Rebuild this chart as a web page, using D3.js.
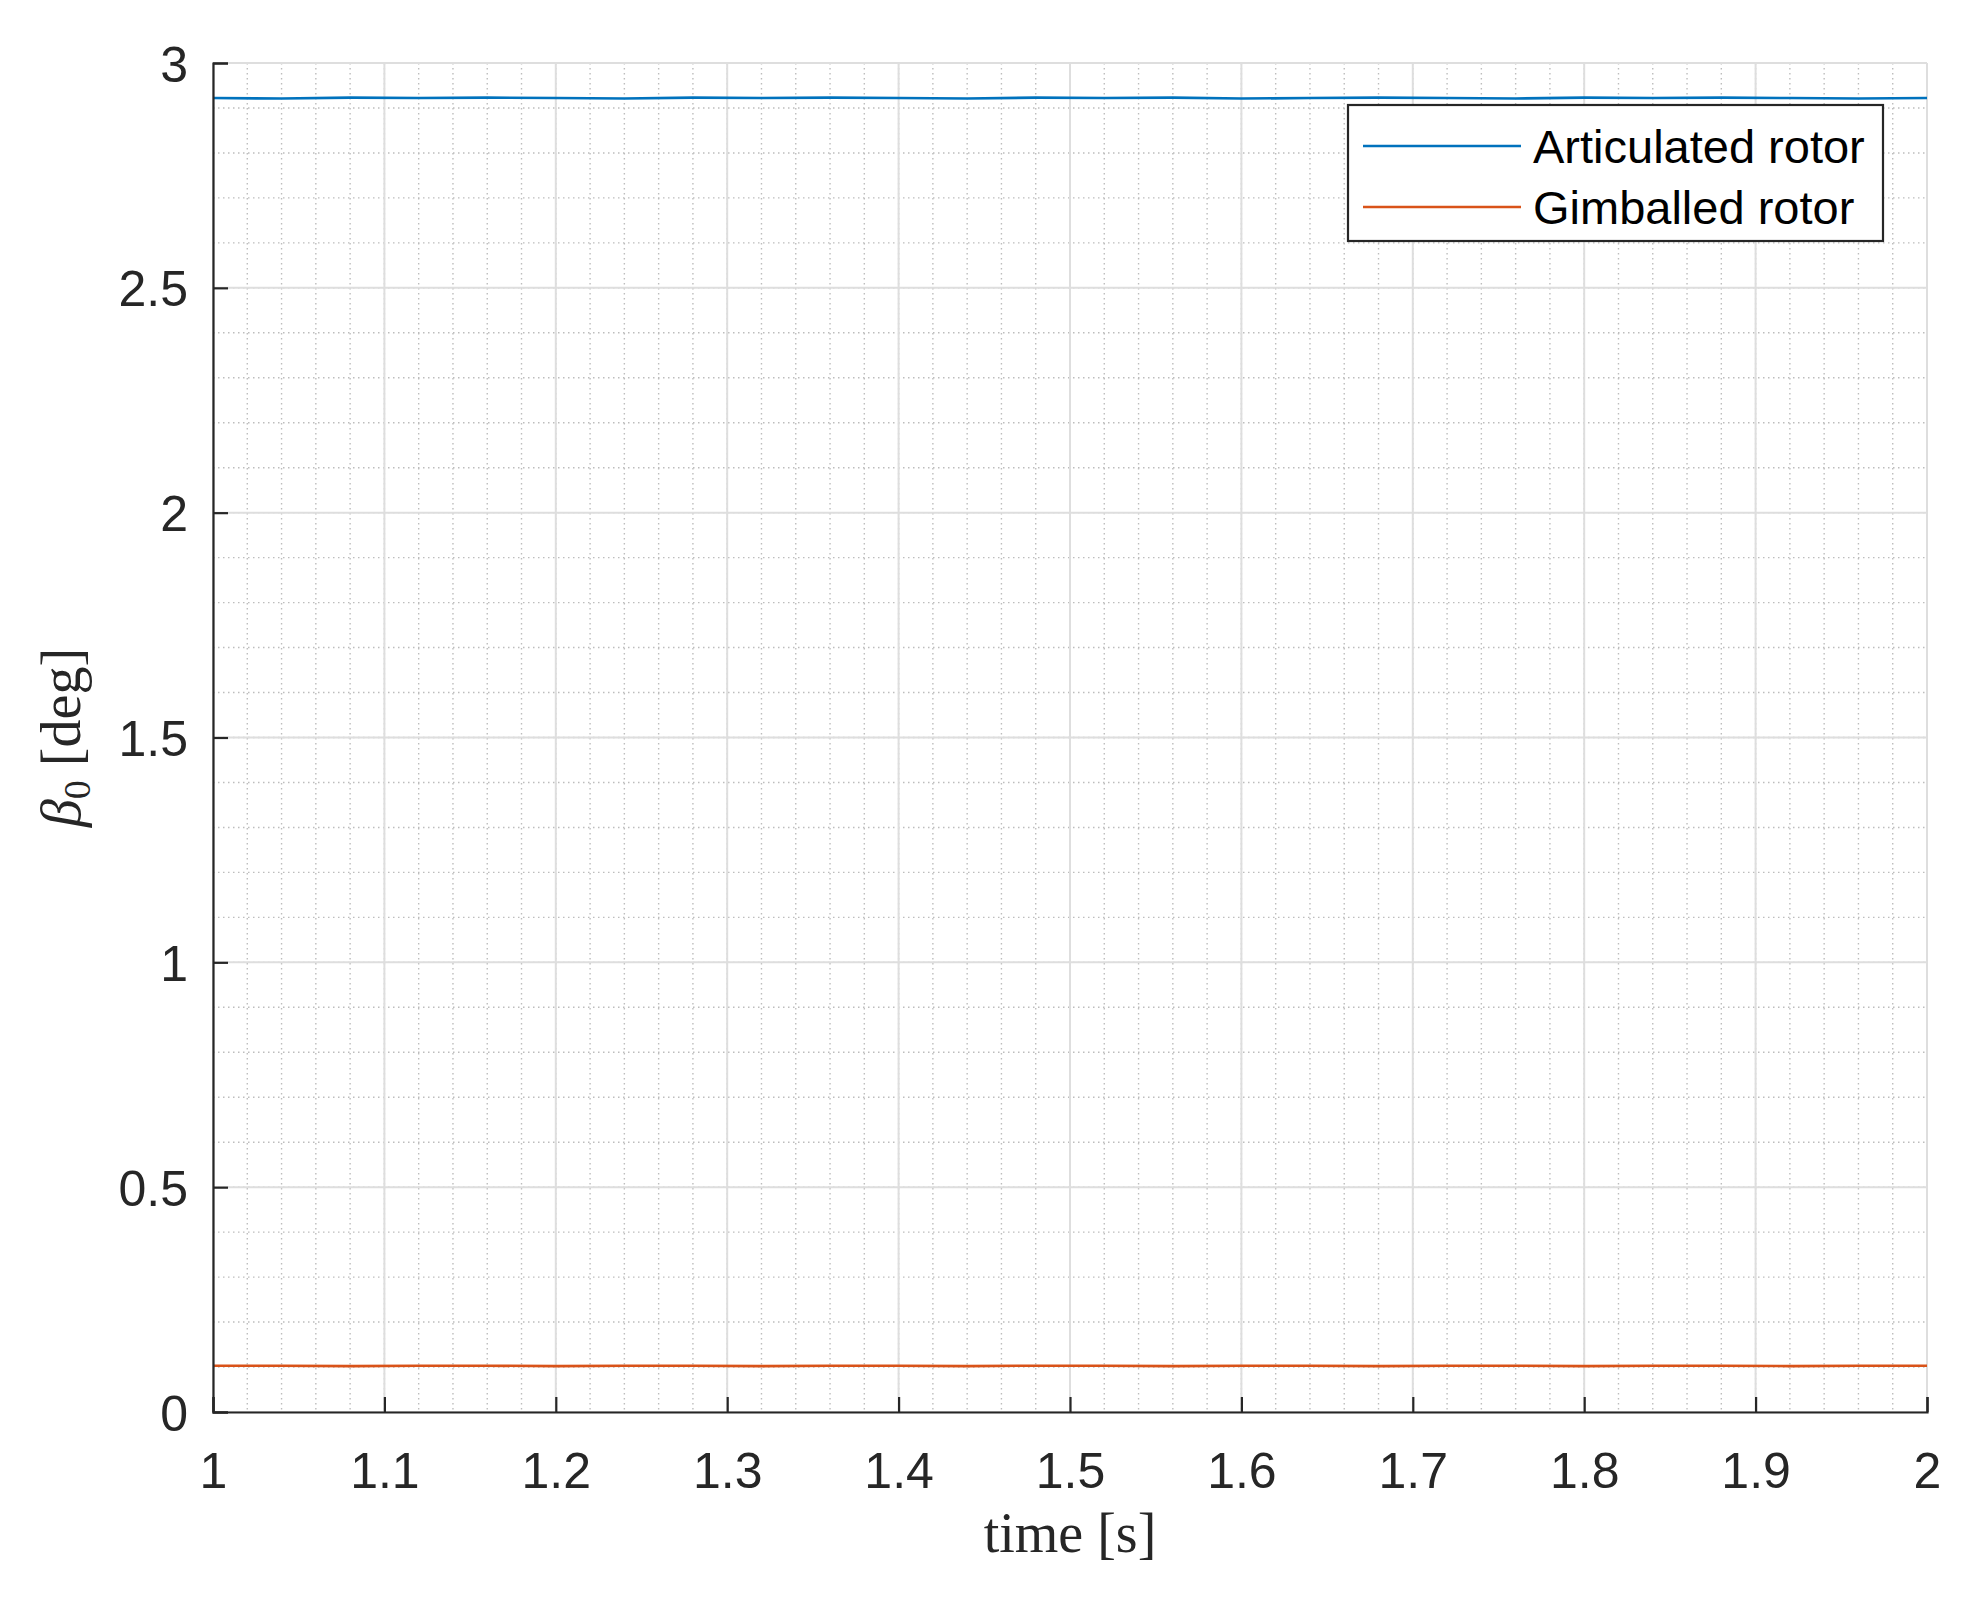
<!DOCTYPE html>
<html>
<head>
<meta charset="utf-8">
<script src="https://cdn.jsdelivr.net/npm/d3@7"></script>
<style>
  body { margin: 0; background: #fff; }
  svg { display: block; }
</style>
</head>
<body>
<div id="chart"></div>
<script>
// Data
const timeValues = [1.00, 1.04, 1.08, 1.12, 1.16, 1.20, 1.24, 1.28, 1.32, 1.36, 1.40, 1.44, 1.48,
                    1.52, 1.56, 1.60, 1.64, 1.68, 1.72, 1.76, 1.80, 1.84, 1.88, 1.92, 1.96, 2.00];
const articulated = [2.922, 2.921, 2.923, 2.922, 2.923, 2.922, 2.921, 2.923, 2.922, 2.923, 2.922, 2.921, 2.923,
                     2.922, 2.923, 2.921, 2.922, 2.923, 2.922, 2.921, 2.923, 2.922, 2.923, 2.922, 2.921, 2.922];
const gimballed = [0.103, 0.103, 0.102, 0.103, 0.103, 0.102, 0.103, 0.103, 0.102, 0.103, 0.103, 0.102, 0.103,
                   0.103, 0.102, 0.103, 0.103, 0.102, 0.103, 0.103, 0.102, 0.103, 0.103, 0.102, 0.103, 0.103];
const seriesNames = ['Articulated rotor', 'Gimballed rotor'];
const seriesColors = ['#0072BD', '#D95319'];
const xTicks = [1, 1.1, 1.2, 1.3, 1.4, 1.5, 1.6, 1.7, 1.8, 1.9, 2];
const yTicks = [0, 0.5, 1, 1.5, 2, 2.5, 3];
const xMinor = d3.range(1, 2.0001, 0.02);
const yMinor = d3.range(0, 3.0001, 0.1);

const width = 1987, height = 1600;
const margin = {top: 63, right: 60, bottom: 188, left: 213};
const innerW = width - margin.left - margin.right;
const innerH = height - margin.top - margin.bottom;

const svg = d3.select('#chart').append('svg')
    .attr('width', width)
    .attr('height', height);

const g = svg.append('g')
    .attr('transform', `translate(${margin.left},${margin.top})`);

const x = d3.scaleLinear().domain([1, 2]).range([0, innerW]);
const y = d3.scaleLinear().domain([0, 3]).range([innerH, 0]);

// Minor grid (dotted)
g.append('g').selectAll('line')
    .data(xMinor)
    .enter().append('line')
    .attr('x1', d => x(d)).attr('x2', d => x(d))
    .attr('y1', 0).attr('y2', innerH)
    .attr('stroke', '#bdbdbd').attr('stroke-width', 1.4)
    .attr('stroke-dasharray', '1.5,3.5');
g.append('g').selectAll('line')
    .data(yMinor)
    .enter().append('line')
    .attr('x1', 0).attr('x2', innerW)
    .attr('y1', d => y(d)).attr('y2', d => y(d))
    .attr('stroke', '#bdbdbd').attr('stroke-width', 1.4)
    .attr('stroke-dasharray', '1.5,3.5');

// Major grid
g.append('g').selectAll('line')
    .data(xTicks)
    .enter().append('line')
    .attr('x1', d => x(d)).attr('x2', d => x(d))
    .attr('y1', 0).attr('y2', innerH)
    .attr('stroke', '#dedede').attr('stroke-width', 2);
g.append('g').selectAll('line')
    .data(yTicks)
    .enter().append('line')
    .attr('x1', 0).attr('x2', innerW)
    .attr('y1', d => y(d)).attr('y2', d => y(d))
    .attr('stroke', '#dedede').attr('stroke-width', 2);

// Series lines
const line = d3.line()
    .x((d, i) => x(timeValues[i]))
    .y(d => y(d));

[articulated, gimballed].forEach((vals, i) => {
    g.append('path')
        .datum(vals)
        .attr('d', line)
        .attr('fill', 'none')
        .attr('stroke', seriesColors[i])
        .attr('stroke-width', 2.6);
});

// Axes (ticks pointing inward)
const xAxis = g.append('g')
    .attr('transform', `translate(0,${innerH})`)
    .call(d3.axisBottom(x).tickValues(xTicks).tickSize(-15).tickPadding(40)
        .tickFormat(d3.format('~g')));
const yAxis = g.append('g')
    .call(d3.axisLeft(y).tickValues(yTicks).tickSize(-15).tickPadding(25)
        .tickFormat(d3.format('~g')));

[xAxis, yAxis].forEach(ax => {
    ax.select('.domain').attr('stroke', '#262626').attr('stroke-width', 2.2);
    ax.selectAll('.tick line').attr('stroke', '#262626').attr('stroke-width', 2.2);
    ax.selectAll('.tick text')
        .attr('fill', '#262626')
        .style('font-family', '"Liberation Sans", Arial, sans-serif')
        .style('font-size', '50px');
});
xAxis.selectAll('.tick text').attr('dy', '0.72em');
yAxis.selectAll('.tick text').attr('dy', '0.36em');

// Axis titles
svg.append('text')
    .attr('x', margin.left + innerW / 2)
    .attr('y', 1552)
    .attr('text-anchor', 'middle')
    .style('font-family', '"Liberation Serif", "Times New Roman", serif')
    .style('font-size', '56px')
    .attr('fill', '#262626')
    .text('time [s]');

const yTitle = svg.append('text')
    .attr('transform', `translate(80,${margin.top + innerH / 2}) rotate(-90)`)
    .attr('text-anchor', 'middle')
    .style('font-family', '"Liberation Serif", "Times New Roman", serif')
    .style('font-size', '56px')
    .attr('fill', '#262626');
yTitle.append('tspan').style('font-style', 'italic').text('β');
yTitle.append('tspan').attr('dy', 10).style('font-size', '38px').text('0');
yTitle.append('tspan').attr('dy', -10).text(' [deg]');

// Legend
const legend = svg.append('g').attr('transform', 'translate(1348,105)');
legend.append('rect')
    .attr('width', 535).attr('height', 136)
    .attr('fill', '#fff')
    .attr('stroke', '#262626').attr('stroke-width', 2.2);
seriesNames.forEach((name, i) => {
    const row = legend.append('g').attr('transform', `translate(0,${41 + i * 61})`);
    row.append('line')
        .attr('x1', 15).attr('x2', 173)
        .attr('stroke', seriesColors[i]).attr('stroke-width', 2.6);
    row.append('text')
        .attr('x', 185).attr('dy', '0.36em')
        .style('font-family', '"Liberation Sans", Arial, sans-serif')
        .style('font-size', '47px')
        .attr('fill', '#000')
        .text(name);
});
</script>
</body>
</html>
